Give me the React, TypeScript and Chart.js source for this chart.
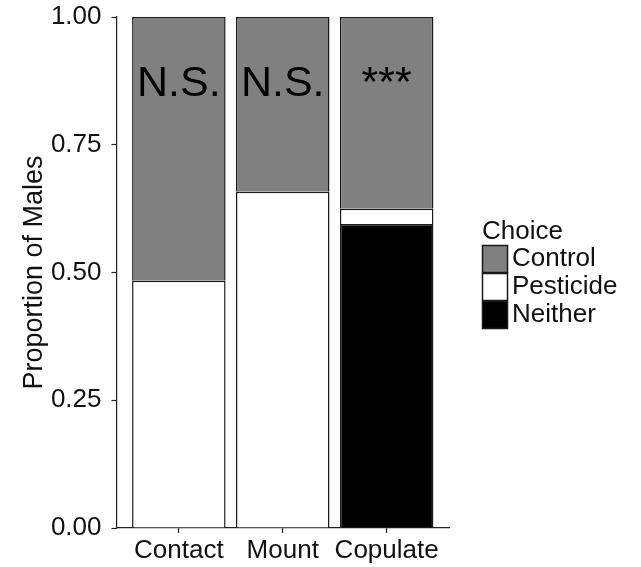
import React, { useEffect, useRef } from "react";
import { Chart, registerables } from "chart.js";

Chart.register(...registerables);

const categories = ["Contact", "Mount", "Copulate"];
const neither = [0, 0, 0.595];
const pesticide = [0.484, 0.658, 0.03];
const control = [0.516, 0.342, 0.375];
const annotations = ["N.S.", "N.S.", "***"];
const annotationY = 0.875;
const yTicks = [0, 0.25, 0.5, 0.75, 1];
const legendTitle = "Choice";
const legendItems = ["Control", "Pesticide", "Neither"];
const legendColors = ["#808080", "#ffffff", "#000000"];
const yTitle = "Proportion of Males";

const FONT = "'Liberation Sans', Arial, sans-serif";

export default function App() {
  const ref = useRef<HTMLCanvasElement | null>(null);

  useEffect(() => {
    document.body.style.margin = "0";
    const canvas = ref.current;
    if (!canvas) return;

    const toPts = (arr: number[]) => arr.map((v, i) => ({ x: i + 1, y: v }));

    const overlay = {
      id: "overlay",
      afterDraw(chart: any) {
        const ctx = chart.ctx;
        const xs = chart.scales.x;
        const ys = chart.scales.y;
        ctx.save();
        ctx.fillStyle = "#000";
        ctx.font = `43px ${FONT}`;
        ctx.textAlign = "center";
        ctx.textBaseline = "alphabetic";
        annotations.forEach((t, i) => {
          const x = xs.getPixelForValue(i + 1);
          const y = ys.getPixelForValue(annotationY) + 0.358 * 43;
          ctx.fillText(t, x, y);
        });
        ctx.save();
        ctx.translate(35, (chart.chartArea.top + chart.chartArea.bottom) / 2);
        ctx.rotate(-Math.PI / 2);
        ctx.font = `27px ${FONT}`;
        ctx.fillStyle = "#111";
        ctx.textAlign = "center";
        ctx.textBaseline = "middle";
        ctx.fillText(yTitle, 0, 0);
        ctx.restore();
        const lx = 482;
        ctx.font = `26px ${FONT}`;
        ctx.fillStyle = "#111";
        ctx.textAlign = "left";
        ctx.textBaseline = "alphabetic";
        ctx.fillText(legendTitle, lx, 239);
        legendItems.forEach((t, i) => {
          const top = 245 + i * 28;
          ctx.fillStyle = legendColors[i];
          ctx.fillRect(lx, top, 26, 28);
          ctx.strokeStyle = "#1a1a1a";
          ctx.lineWidth = 1.5;
          ctx.strokeRect(lx + 0.5, top + 0.5, 25, 27);
          ctx.fillStyle = "#111";
          ctx.textBaseline = "middle";
          ctx.fillText(t, lx + 30, top + 14);
        });
        ctx.restore();
      },
    };

    const chart = new Chart(canvas, {
      type: "bar",
      data: {
        datasets: [
          { label: "Neither", data: toPts(neither), backgroundColor: "#000000" },
          { label: "Pesticide", data: toPts(pesticide), backgroundColor: "#ffffff" },
          { label: "Control", data: toPts(control), backgroundColor: "#808080" },
        ].map((d) => ({
          ...d,
          borderColor: "#1a1a1a",
          borderWidth: 1.5,
          barPercentage: 0.9,
          categoryPercentage: 1,
        })),
      },
      options: {
        responsive: false,
        animation: false,
        layout: { padding: { left: 0, right: 192, top: 17, bottom: 0 } },
        plugins: { legend: { display: false }, tooltip: { enabled: false } },
        scales: {
          x: {
            type: "linear",
            stacked: true,
            offset: false,
            min: 0.4,
            max: 3.6,
            afterBuildTicks: (s: any) => {
              s.ticks = categories.map((_, i) => ({ value: i + 1 }));
            },
            afterFit: (s: any) => {
              s.height = 39;
              s.paddingLeft = 0;
              s.paddingRight = 0;
            },
            grid: { drawOnChartArea: false, tickLength: 5, color: "#222", tickWidth: 1.2, offset: false },
            border: { color: "#222", width: 1.2 },
            ticks: {
              autoSkip: false,
              maxRotation: 0,
              padding: 2,
              color: "#111",
              font: { family: FONT, size: 26 },
              callback: (v: any) => categories[Math.round(Number(v)) - 1] ?? "",
            },
          },
          y: {
            stacked: true,
            min: 0,
            max: 1,
            afterBuildTicks: (s: any) => {
              s.ticks = yTicks.map((v) => ({ value: v }));
            },
            afterFit: (s: any) => {
              s.width = 116.5;
              s.paddingTop = 0;
              s.paddingBottom = 0;
            },
            grid: { drawOnChartArea: false, tickLength: 5, color: "#222", tickWidth: 1.2 },
            border: { color: "#222", width: 1.2 },
            ticks: {
              padding: 10,
              color: "#111",
              font: { family: FONT, size: 26 },
              callback: (v: any) => Number(v).toFixed(2),
            },
          },
        },
      },
      plugins: [overlay],
    } as any);

    return () => chart.destroy();
  }, []);

  return (
    <div style={{ width: 641, height: 567 }}>
      <canvas ref={ref} width={641} height={567} style={{ display: "block" }} />
    </div>
  );
}
